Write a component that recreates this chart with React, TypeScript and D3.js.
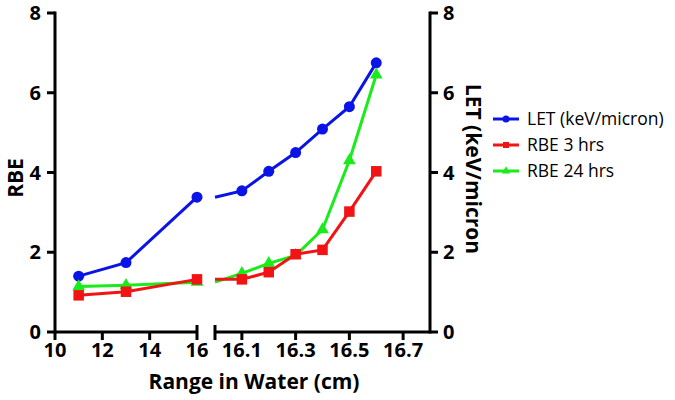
import React from "react";
import * as d3 from "d3";

const ranges = [11, 13, 16, 16.1, 16.2, 16.3, 16.4, 16.5, 16.6];
const letValues = [1.4, 1.74, 3.38, 3.54, 4.03, 4.5, 5.09, 5.65, 6.75];
const rbe3Values = [0.92, 1.01, 1.32, 1.32, 1.5, 1.95, 2.06, 3.02, 4.03];
const rbe24Values = [1.14, 1.17, 1.25, 1.47, 1.72, 1.92, 2.57, 4.3, 6.45];
const leftTicks = [10, 12, 14, 16];
const rightTicks = [16.1, 16.3, 16.5, 16.7];
const yTicks = [0, 2, 4, 6, 8];
const seriesNames = ["LET (keV/micron)", "RBE 3 hrs", "RBE 24 hrs"];

const W = 675;
const H = 400;
const FONT = "'Open Sans', sans-serif";

export default function App() {
  const xL = d3.scaleLinear().domain([10, 16]).range([55, 197]);
  const xR = d3.scaleLinear().domain([16, 16.8]).range([215, 430]);
  const y = d3.scaleLinear().domain([0, 8]).range([332, 13]);
  const yR = d3.scaleLinear().domain([0, 8]).range([332, 13]);

  const series = [
    { name: seriesNames[0], values: letValues, color: "#0a14e6", shape: "circle", scale: yR },
    { name: seriesNames[2], values: rbe24Values, color: "#1aeb1a", shape: "triangle", scale: y },
    { name: seriesNames[1], values: rbe3Values, color: "#f01414", shape: "square", scale: y },
  ];
  const legendOrder = [series[0], series[2], series[1]];

  const marker = (shape: string, cx: number, cy: number, color: string, key: string, small = false) => {
    if (shape === "circle") return <circle key={key} cx={cx} cy={cy} r={small ? 3.5 : 5.5} fill={color} />;
    if (shape === "square") {
      const s = small ? 6 : 10.5;
      return <rect key={key} x={cx - s / 2} y={cy - s / 2} width={s} height={s} fill={color} />;
    }
    const sym = d3.symbol().type(d3.symbolTriangle).size(small ? 30 : 70)();
    return <path key={key} d={sym || ""} transform={`translate(${cx},${cy})`} fill={color} />;
  };

  const pts = ranges.map((r, i) => i);
  const leftIdx = pts.filter((i) => ranges[i] <= 16);
  const rightIdx = pts.filter((i) => ranges[i] >= 16);

  return (
    <svg width={W} height={H} style={{ position: "absolute", left: 0, top: 0, background: "#fff" }} fontFamily={FONT}>
      {series.map((s) => {
        const sc = s.scale;
        const lineL = d3.line<number>().x((i) => xL(ranges[i])).y((i) => sc(s.values[i]));
        const lineR = d3.line<number>().x((i) => xR(ranges[i])).y((i) => sc(s.values[i]));
        return (
          <g key={s.name}>
            <path d={lineL(leftIdx) || ""} fill="none" stroke={s.color} strokeWidth={3} />
            <path d={lineR(rightIdx) || ""} fill="none" stroke={s.color} strokeWidth={3} />
            {leftIdx.map((i) => marker(s.shape, xL(ranges[i]), sc(s.values[i]), s.color, "l" + i))}
            {rightIdx.filter((i) => ranges[i] > 16).map((i) => marker(s.shape, xR(ranges[i]), sc(s.values[i]), s.color, "r" + i))}
          </g>
        );
      })}

      <g stroke="#000" strokeWidth={3} fill="none">
        <line x1={55} x2={55} y1={y(8) - 1.5} y2={y(0) + 1.5} />
        <line x1={430} x2={430} y1={yR(8) - 1.5} y2={yR(0) + 1.5} />
        <line x1={xL(10)} x2={xL(16)} y1={y(0)} y2={y(0)} />
        <line x1={xR(16)} x2={xR(16.8)} y1={y(0)} y2={y(0)} />
        {yTicks.map((t) => (
          <line key={"yl" + t} x1={47} x2={55} y1={y(t)} y2={y(t)} />
        ))}
        {yTicks.map((t) => (
          <line key={"yr" + t} x1={430} x2={438} y1={yR(t)} y2={yR(t)} />
        ))}
        {leftTicks.map((t) => (
          <line key={"xl" + t} x1={xL(t)} x2={xL(t)} y1={t === 16 ? 325 : 332} y2={340} />
        ))}
        <line x1={xR(16)} x2={xR(16)} y1={325} y2={340} />
        {rightTicks.map((t) => (
          <line key={"xr" + t} x1={xR(t)} x2={xR(t)} y1={332} y2={340} />
        ))}
      </g>

      <g fontSize={20} fontWeight={700} fill="#000">
        {yTicks.map((t) => (
          <text key={"tl" + t} x={41} y={y(t) + 7} textAnchor="end">{t}</text>
        ))}
        {yTicks.map((t) => (
          <text key={"tr" + t} x={443} y={yR(t) + 7} textAnchor="start">{t}</text>
        ))}
        {leftTicks.map((t) => (
          <text key={"txl" + t} x={xL(t)} y={357} textAnchor="middle">{t}</text>
        ))}
        {rightTicks.map((t) => (
          <text key={"txr" + t} x={xR(t)} y={357} textAnchor="middle">{d3.format(".1f")(t)}</text>
        ))}
      </g>

      <text x={254} y={389} textAnchor="middle" fontSize={21} fontWeight={700}>Range in Water (cm)</text>
      <text transform="translate(23,178) rotate(-90)" textAnchor="middle" fontSize={21} fontWeight={700}>RBE</text>
      <text transform="translate(466,169) rotate(90)" textAnchor="middle" fontSize={21} fontWeight={700}>LET (keV/micron</text>

      {legendOrder.map((s, k) => {
        const ly = 119 + k * 26;
        return (
          <g key={"lg" + k}>
            <line x1={493} x2={519} y1={ly} y2={ly} stroke={s.color} strokeWidth={3} />
            {marker(s.shape, 506, ly, s.color, "lm" + k, true)}
            <text x={527} y={ly + 6} fontSize={17.5} fill="#000">{s.name}</text>
          </g>
        );
      })}
    </svg>
  );
}
